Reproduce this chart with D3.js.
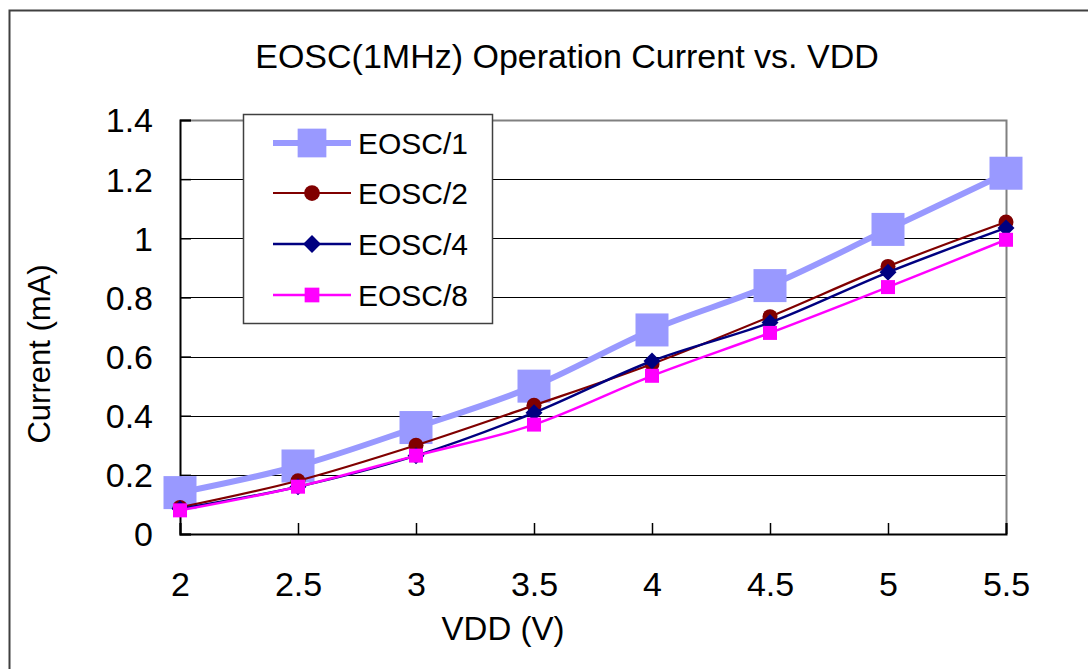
<!DOCTYPE html>
<html>
<head>
<meta charset="utf-8">
<script src="https://cdn.jsdelivr.net/npm/d3@7"></script>
<style>
  body { margin: 0; background: #fff; }
  text { font-family: "Liberation Sans", Arial, sans-serif; fill: #000; }
</style>
</head>
<body>
<svg id="chart" width="1088" height="669"></svg>
<script>
// values
var vdd = [2, 2.5, 3, 3.5, 4, 4.5, 5, 5.5];
var eosc1 = [0.14, 0.23, 0.36, 0.50, 0.69, 0.84, 1.03, 1.22];
var eosc2 = [0.09, 0.18, 0.30, 0.435, 0.575, 0.735, 0.905, 1.055];
var eosc4 = [0.085, 0.16, 0.265, 0.41, 0.585, 0.715, 0.885, 1.035];
var eosc8 = [0.08, 0.16, 0.265, 0.37, 0.535, 0.68, 0.835, 0.995];
var xTicks = [2, 2.5, 3, 3.5, 4, 4.5, 5, 5.5];
var yTicks = [0, 0.2, 0.4, 0.6, 0.8, 1, 1.2, 1.4];

var series = [
  {name: "EOSC/1", values: eosc1, color: "#9999ff", width: 6, shape: "bigsquare"},
  {name: "EOSC/2", values: eosc2, color: "#800000", width: 2.2, shape: "circle"},
  {name: "EOSC/4", values: eosc4, color: "#000080", width: 2.5, shape: "diamond"},
  {name: "EOSC/8", values: eosc8, color: "#ff00ff", width: 2.5, shape: "square"}
];

var svg = d3.select("#chart");
var plotLeft = 180, plotRight = 1006, plotTop = 120, plotBottom = 534;

var x = d3.scaleLinear().domain([2, 5.5]).range([plotLeft, plotRight]);
var y = d3.scaleLinear().domain([0, 1.4]).range([plotBottom, plotTop]);

// outer chart frame (runs off the picture right and bottom)
svg.append("path")
  .attr("d", "M9.5,1000V10.5H1200")
  .attr("fill", "none")
  .attr("stroke", "#404040")
  .attr("stroke-width", 2);

svg.append("text")
  .attr("x", 567).attr("y", 68)
  .attr("text-anchor", "middle")
  .style("font-size", "34px")
  .text("EOSC(1MHz) Operation Current vs. VDD");

// gridlines
svg.append("g").selectAll("line")
  .data(yTicks.slice(1, -1))
  .join("line")
  .attr("x1", plotLeft).attr("x2", plotRight)
  .attr("y1", function (d) { return Math.round(y(d)) + 0.5; })
  .attr("y2", function (d) { return Math.round(y(d)) + 0.5; })
  .attr("stroke", "#000")
  .attr("stroke-width", 1);

// plot border top/right in gray
svg.append("path")
  .attr("d", "M" + plotLeft + "," + (plotTop + 0.5) + "H" + (plotRight + 0.5) + "V" + plotBottom)
  .attr("fill", "none")
  .attr("stroke", "#808080")
  .attr("stroke-width", 2);

// axes with inside ticks
var yAxis = d3.axisLeft(y).tickValues(yTicks).tickSize(-11).tickPadding(27)
  .tickFormat(function (d) { return d3.format("")(d); });
var gy = svg.append("g").attr("transform", "translate(" + plotLeft + ",0)").call(yAxis);
gy.select(".domain").attr("stroke", "#000").attr("stroke-width", 2);
gy.selectAll(".tick line").attr("stroke", "#000").attr("stroke-width", 1.5);
gy.selectAll(".tick text").style("font-size", "34px").attr("dy", "0.35em");

var xAxis = d3.axisBottom(x).tickValues(xTicks).tickSize(-11).tickPadding(38)
  .tickFormat(function (d) { return d3.format("")(d); });
var gx = svg.append("g").attr("transform", "translate(0," + plotBottom + ")").call(xAxis);
gx.select(".domain").attr("stroke", "#000").attr("stroke-width", 2);
gx.selectAll(".tick line").attr("stroke", "#000").attr("stroke-width", 1.5);
gx.selectAll(".tick text").style("font-size", "34px").attr("dy", "0.71em");
gy.attr("font-family", null).attr("font-size", null);
gx.attr("font-family", null).attr("font-size", null);

svg.append("text")
  .attr("x", 503).attr("y", 640)
  .attr("text-anchor", "middle")
  .style("font-size", "33px")
  .text("VDD (V)");

svg.append("text")
  .attr("transform", "translate(50,354) rotate(-90)")
  .attr("text-anchor", "middle")
  .style("font-size", "31px")
  .text("Current (mA)");

function drawMarker(g, shape, color, cx, cy, scale) {
  var s = scale || 1;
  if (shape === "bigsquare") {
    var a = 33 * s;
    g.append("rect").attr("x", cx - a / 2).attr("y", cy - a / 2)
      .attr("width", a).attr("height", a).attr("fill", color);
  } else if (shape === "circle") {
    g.append("circle").attr("cx", cx).attr("cy", cy).attr("r", 7.5 * s).attr("fill", color);
  } else if (shape === "diamond") {
    var h = 8.5 * s;
    g.append("path")
      .attr("d", "M" + cx + "," + (cy - h) + "L" + (cx + h) + "," + cy + "L" + cx + "," + (cy + h) + "L" + (cx - h) + "," + cy + "Z")
      .attr("fill", color);
  } else {
    var b = 14 * s;
    g.append("rect").attr("x", cx - b / 2).attr("y", cy - b / 2)
      .attr("width", b).attr("height", b).attr("fill", color);
  }
}

var line = d3.line()
  .x(function (d, i) { return x(vdd[i]); })
  .y(function (d) { return y(d); })
  .curve(d3.curveCatmullRom.alpha(0));

series.forEach(function (s) {
  var g = svg.append("g");
  g.append("path")
    .attr("d", line(s.values))
    .attr("fill", "none")
    .attr("stroke", s.color)
    .attr("stroke-width", s.width);
  s.values.forEach(function (v, i) {
    drawMarker(g, s.shape, s.color, x(vdd[i]), y(v));
  });
});

// legend
var lg = svg.append("g");
lg.append("rect")
  .attr("x", 243.5).attr("y", 114.5)
  .attr("width", 249).attr("height", 209)
  .attr("fill", "#fff")
  .attr("stroke", "#404040")
  .attr("stroke-width", 1.5);

var legendY = [143, 193, 244, 295];
series.forEach(function (s, i) {
  var cy = legendY[i];
  lg.append("line")
    .attr("x1", 273).attr("x2", 351)
    .attr("y1", cy).attr("y2", cy)
    .attr("stroke", s.color)
    .attr("stroke-width", s.width);
  drawMarker(lg, s.shape, s.color, 312, cy, s.shape === "bigsquare" ? 0.87 : 1.05);
  lg.append("text")
    .attr("x", 358).attr("y", cy)
    .attr("dy", "0.36em")
    .style("font-size", "30px")
    .text(s.name);
});
</script>
</body>
</html>
